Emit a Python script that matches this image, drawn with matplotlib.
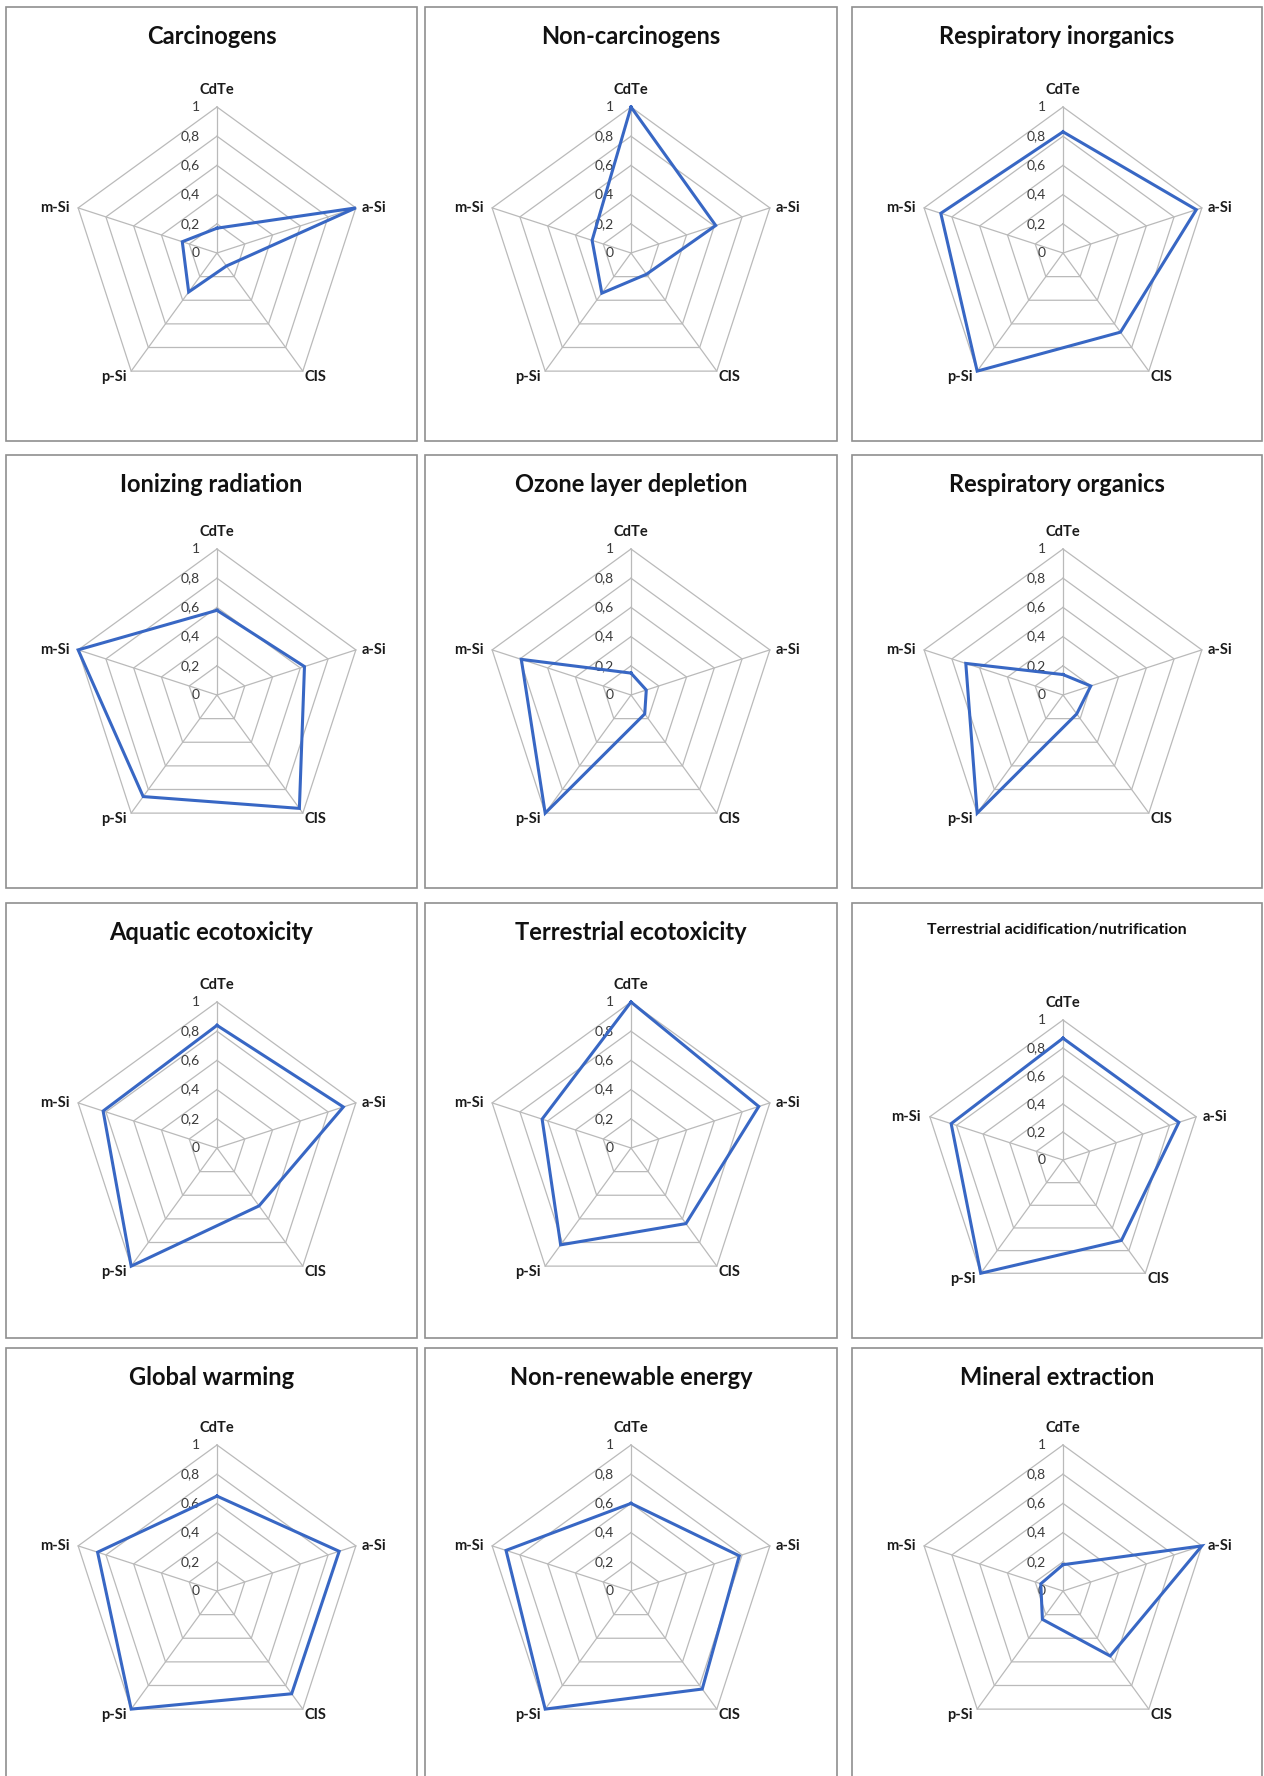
import numpy as np
import matplotlib
matplotlib.use("Agg")
import matplotlib.pyplot as plt
from matplotlib.patches import Rectangle

plt.rcParams["font.family"] = ["Lato", "DejaVu Sans"]

# axes of every radar, clockwise from the top
categories = ["CdTe", "a-Si", "CIS", "p-Si", "m-Si"]
radial_ticks = [0, 0.2, 0.4, 0.6, 0.8, 1.0]
radial_labels = ["0", "0,2", "0,4", "0,6", "0,8", "1"]

titles = [
    "Carcinogens", "Non-carcinogens", "Respiratory inorganics",
    "Ionizing radiation", "Ozone layer depletion", "Respiratory organics",
    "Aquatic ecotoxicity", "Terrestrial ecotoxicity", "Terrestrial acidification/nutrification",
    "Global warming", "Non-renewable energy", "Mineral extraction",
]

# normalised impact scores, order as in categories
carcinogens = [0.17, 1.00, 0.11, 0.33, 0.25]
non_carcinogens = [1.00, 0.61, 0.18, 0.34, 0.28]
resp_inorganics = [0.83, 0.96, 0.67, 1.00, 0.88]
ionizing_radiation = [0.58, 0.63, 0.96, 0.86, 1.00]
ozone_depletion = [0.15, 0.11, 0.16, 1.00, 0.79]
resp_organics = [0.14, 0.20, 0.16, 1.00, 0.70]
aquatic_ecotox = [0.84, 0.91, 0.49, 1.00, 0.82]
terrestrial_ecotox = [1.00, 0.92, 0.64, 0.82, 0.64]
terrestrial_acid = [0.87, 0.87, 0.71, 1.00, 0.84]
global_warming = [0.65, 0.88, 0.87, 1.00, 0.86]
non_renewable = [0.60, 0.78, 0.83, 1.00, 0.90]
mineral_extraction = [0.18, 1.00, 0.55, 0.24, 0.16]

series = [carcinogens, non_carcinogens, resp_inorganics,
          ionizing_radiation, ozone_depletion, resp_organics,
          aquatic_ecotox, terrestrial_ecotox, terrestrial_acid,
          global_warming, non_renewable, mineral_extraction]

# page layout in pixels (from the top-left corner)
W, H = 1264, 1776
col_box = [(6, 417), (425, 837), (852, 1262)]
row_box = [(7, 441), (455, 888), (903, 1338), (1348, 1800)]
col_cx = [217, 631, 1063]
row_cy = [253, 695, 1148, 1591]

GRID = "#bababa"
LINE = "#3867c4"
BOX = "#8f8f8f"

fig = plt.figure(figsize=(W / 100, H / 100), dpi=100)
fig.patch.set_facecolor("white")

theta = np.linspace(0, 2 * np.pi, len(categories), endpoint=False)
theta_c = np.append(theta, theta[0])

# label placement around the pentagon: (dx, dy, ha) in pixels
lab_off = [(0, 17, "center"), (6, 0, "left"), (2, -6, "left"), (-5, -6, "right"), (-9, 0, "right")]

for i, (title, vals) in enumerate(zip(titles, series)):
    r, c = divmod(i, 3)
    x0, x1 = col_box[c]
    y0, y1 = row_box[r]
    fig.patches.append(Rectangle((x0 / W, 1 - y1 / H), (x1 - x0) / W, (y1 - y0) / H,
                                 transform=fig.transFigure, fill=False,
                                 edgecolor=BOX, linewidth=1.2))

    small = len(title) > 30
    R = 140 if small else 146
    cx = col_cx[c]
    cy = row_cy[r] + (12 if small else 0)

    fig.text((x0 + x1) / 2 / W, 1 - (y0 + (27 if small else 29)) / H, title,
             ha="center", va="center", fontsize=11.5 if small else 17,
             fontweight="bold", color="#111111")

    ax = fig.add_axes([(cx - R) / W, 1 - (cy + R) / H, 2 * R / W, 2 * R / H],
                      projection="polar")
    ax.set_theta_zero_location("N")
    ax.set_theta_direction(-1)
    ax.set_ylim(0, 1)
    ax.grid(False)
    ax.set_xticks([])
    ax.set_yticks([])
    ax.spines["polar"].set_visible(False)
    ax.patch.set_visible(False)

    # pentagon grid and spokes
    for lvl in radial_ticks[1:]:
        ax.plot(theta_c, [lvl] * len(theta_c), color=GRID, lw=0.9, clip_on=False, zorder=1)
    for t in theta:
        ax.plot([t, t], [0, 1], color=GRID, lw=0.9, clip_on=False, zorder=1)

    for lvl, lab in zip(radial_ticks, radial_labels):
        ax.annotate(lab, xy=(0, lvl), xytext=(-17, 0), textcoords="offset pixels",
                    ha="right", va="center", fontsize=10, color="#3a3a3a",
                    annotation_clip=False)

    for t, name, (dx, dy, ha) in zip(theta, categories, lab_off):
        ax.annotate(name, xy=(t, 1), xytext=(dx, dy), textcoords="offset pixels",
                    ha=ha, va="center", fontsize=10.5, fontweight="bold",
                    color="#1a1a1a", annotation_clip=False)

    ax.plot(theta_c, vals + vals[:1], color=LINE, lw=2.2, clip_on=False, zorder=3,
            solid_joinstyle="miter")

fig.savefig("out.png", dpi=100, facecolor="white")
